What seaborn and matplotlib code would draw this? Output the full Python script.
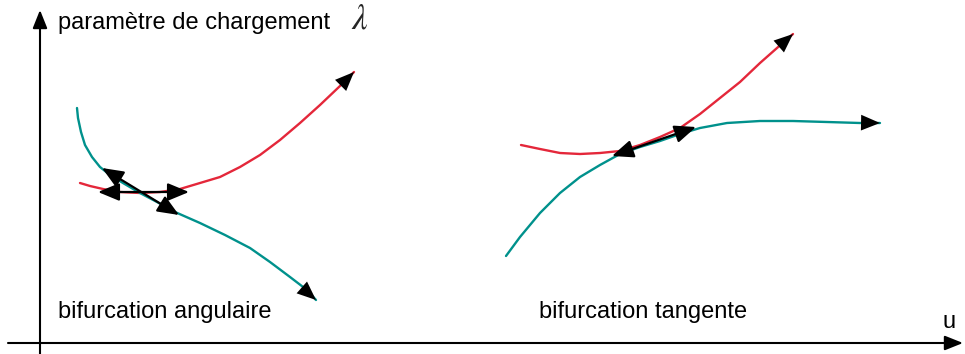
import numpy as np
import pandas as pd
import matplotlib
matplotlib.use("Agg")
import matplotlib.pyplot as plt
import seaborn as sns

# ---------------------------------------------------------------------------
# Data (image-like coordinates: x to the right, y downward)
# ---------------------------------------------------------------------------

# bifurcation angulaire
red_left_x = [80, 90, 103, 120, 140, 160, 180, 200, 220, 240, 260, 280, 300, 320, 340, 347, 354]
red_left_y = [183, 186, 189, 192, 193, 192, 189, 183, 177, 167, 155, 140, 123, 105, 86, 79, 72]
teal_left_x = [77, 78, 81, 85, 92, 100, 110, 123, 140, 157, 175, 200, 225, 250, 270, 290, 307, 316]
teal_left_y = [108, 118, 132, 145, 157, 167, 175, 183, 193, 202, 212, 223, 235, 248, 262, 277, 290, 300]
left_tangent_h = [(98, 192), (189, 192)]
left_tangent_d = [(102, 168), (179, 215)]

# bifurcation tangente
red_right_x = [521, 540, 560, 580, 600, 620, 640, 660, 680, 700, 720, 740, 760, 777, 793]
red_right_y = [145, 149, 153, 154, 153, 151, 145, 137, 128, 114, 98, 82, 63, 48, 34]
teal_right_x = [506, 520, 540, 560, 580, 600, 620, 640, 660, 680, 700, 727, 760, 793, 827, 860, 880]
teal_right_y = [256, 237, 213, 193, 177, 165, 154, 147, 141, 134, 128, 123, 121, 121, 122, 123, 123]
right_tangent = [(612, 156), (696, 127)]

# axes du schema
y_axis = [(40, 354), (40, 10)]
x_axis = [(8, 343), (963, 343)]

labels = {
    "paramètre de chargement": (58, 23),
    "bifurcation angulaire": (58, 312),
    "bifurcation tangente": (539, 312),
    "u": (942, 322),
}
lam_pos = (351, 19)

RED = "#E4273A"
TEAL = "#00918C"

# ---------------------------------------------------------------------------
# Figure
# ---------------------------------------------------------------------------

sns.set_theme(style="white")
plt.rcParams["font.family"] = ["Liberation Sans", "DejaVu Sans"]
plt.rcParams["mathtext.fontset"] = "stix"

fig = plt.figure(figsize=(9.65, 3.54), dpi=100)
ax = fig.add_axes([0, 0, 1, 1])

curves = [
    (red_left_x, red_left_y, RED),
    (teal_left_x, teal_left_y, TEAL),
    (red_right_x, red_right_y, RED),
    (teal_right_x, teal_right_y, TEAL),
]

# tete de fleche noire seule (pas de trait)
head = dict(arrowstyle="-|>,head_length=0.65,head_width=0.27", color="black",
            mutation_scale=21, shrinkA=0, shrinkB=0, lw=0)

for xs, ys, color in curves:
    df = pd.DataFrame({"x": xs, "y": ys})
    sns.lineplot(data=df, x="x", y="y", sort=False, color=color, lw=1.7, ax=ax)
    # fleche noire au bout de la courbe
    ax.annotate("", xy=(xs[-1], ys[-1]), xytext=(xs[-3], ys[-3]),
                arrowprops=head, zorder=5)

ax.set_xlim(0, 965)
ax.set_ylim(354, 0)
ax.axis("off")

# tangentes (doubles fleches)
dbl = dict(arrowstyle="<|-|>,head_length=0.65,head_width=0.27", color="black",
           mutation_scale=20, shrinkA=0, shrinkB=0, lw=1.6)
for a, b in [left_tangent_h, left_tangent_d, right_tangent]:
    ax.annotate("", xy=b, xytext=a, arrowprops=dbl, zorder=6)

# axes
ax_arrow = dict(arrowstyle="-|>,head_length=0.65,head_width=0.26", color="black",
                mutation_scale=17, shrinkA=0, shrinkB=0, lw=1.5)
for a, b in [y_axis, x_axis]:
    ax.annotate("", xy=b, xytext=a, arrowprops=ax_arrow)

for txt, (x, y) in labels.items():
    ax.text(x, y, txt, fontsize=17, ha="left", va="center", color="black")
ax.text(*lam_pos, r"$\lambda$", fontsize=25, ha="left", va="center")

fig.savefig("out.png", dpi=100, facecolor="white")
